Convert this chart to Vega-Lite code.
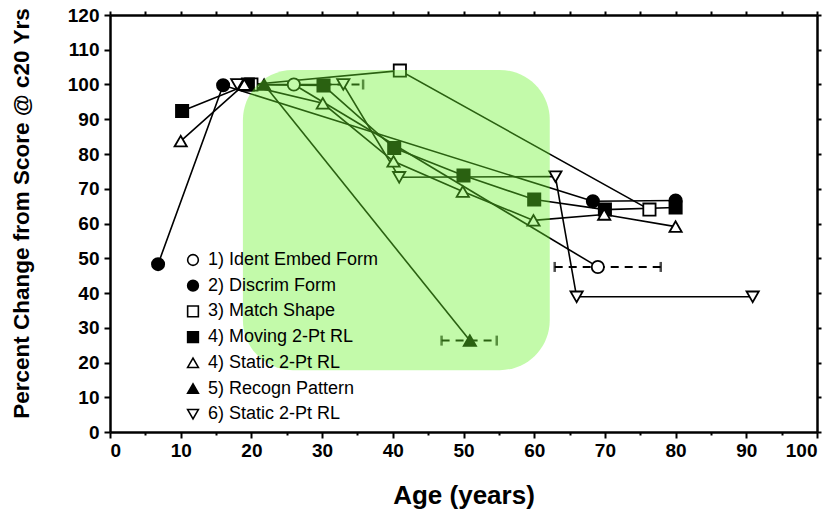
{
  "$schema": "https://vega.github.io/schema/vega-lite/v6.json",
  "width": 707,
  "height": 417,
  "autosize": {"type": "none"},
  "padding": {"left": 110, "top": 15, "right": 19, "bottom": 79},
  "background": "white",
  "config": {
    "view": {"stroke": null},
    "font": "Liberation Sans",
    "axis": {
      "domainColor": "black",
      "domainWidth": 2.5,
      "tickColor": "black",
      "tickWidth": 2,
      "grid": false,
      "labelColor": "black",
      "titleColor": "black",
      "labelFont": "Liberation Sans",
      "titleFont": "Liberation Sans",
      "labelFontWeight": "bold",
      "titleFontWeight": "bold"
    },
    "legend": {
      "title": null,
      "orient": "none",
      "legendX": 74,
      "legendY": 236,
      "symbolSize": 115,
      "symbolStrokeWidth": 1.6,
      "labelFont": "Liberation Sans",
      "labelFontSize": 18,
      "labelColor": "black",
      "labelLimit": 300,
      "labelOffset": 6,
      "rowPadding": 7.7,
      "padding": 0
    }
  },
  "datasets": {
    "scores": [
      {"task": "1) Ident Embed Form", "age": 26, "pct": 100},
      {"task": "1) Ident Embed Form", "age": 69, "pct": 47.5},
      {"task": "2) Discrim Form", "age": 6.8, "pct": 48.3},
      {"task": "2) Discrim Form", "age": 16, "pct": 99.8},
      {"task": "2) Discrim Form", "age": 68.3, "pct": 66.4},
      {"task": "2) Discrim Form", "age": 80, "pct": 66.6},
      {"task": "3) Match Shape", "age": 20, "pct": 100},
      {"task": "3) Match Shape", "age": 41, "pct": 104},
      {"task": "3) Match Shape", "age": 76.3, "pct": 64},
      {"task": "4) Moving 2-Pt RL", "age": 10.2, "pct": 92.4},
      {"task": "4) Moving 2-Pt RL", "age": 19.5, "pct": 100},
      {"task": "4) Moving 2-Pt RL", "age": 30.2, "pct": 99.7},
      {"task": "4) Moving 2-Pt RL", "age": 40.2, "pct": 81.7},
      {"task": "4) Moving 2-Pt RL", "age": 50, "pct": 73.8},
      {"task": "4) Moving 2-Pt RL", "age": 60, "pct": 66.9},
      {"task": "4) Moving 2-Pt RL", "age": 70, "pct": 64},
      {"task": "4) Moving 2-Pt RL", "age": 80, "pct": 64.6},
      {"task": "4) Static 2-Pt RL", "age": 10, "pct": 83.7},
      {"task": "4) Static 2-Pt RL", "age": 19, "pct": 100},
      {"task": "4) Static 2-Pt RL", "age": 30.1, "pct": 94.6},
      {"task": "4) Static 2-Pt RL", "age": 40.1, "pct": 77.9},
      {"task": "4) Static 2-Pt RL", "age": 49.9, "pct": 69.2},
      {"task": "4) Static 2-Pt RL", "age": 59.9, "pct": 60.9},
      {"task": "4) Static 2-Pt RL", "age": 69.9, "pct": 62.6},
      {"task": "4) Static 2-Pt RL", "age": 80, "pct": 59.1},
      {"task": "5) Recogn Pattern", "age": 21.8, "pct": 100},
      {"task": "5) Recogn Pattern", "age": 50.9, "pct": 26.3},
      {"task": "6) Static 2-Pt RL", "age": 18, "pct": 100},
      {"task": "6) Static 2-Pt RL", "age": 33, "pct": 100},
      {"task": "6) Static 2-Pt RL", "age": 40.9, "pct": 73.3},
      {"task": "6) Static 2-Pt RL", "age": 63, "pct": 73.5},
      {"task": "6) Static 2-Pt RL", "age": 66, "pct": 38.9},
      {"task": "6) Static 2-Pt RL", "age": 90.9, "pct": 38.9}
    ],
    "ageRange": [
      {"task": "1) Ident Embed Form", "pct": 47.5, "lo": 62.9, "hi": 77.9},
      {"task": "5) Recogn Pattern", "pct": 26.3, "lo": 46.9, "hi": 54.7},
      {"task": "6) Static 2-Pt RL", "pct": 100, "lo": 30.2, "hi": 35.8}
    ],
    "band": [{"from": 18.8, "to": 62.2, "low": 17.8, "high": 104.2}]
  },
  "resolve": {"axis": {"x": "independent", "y": "independent"}},
  "layer": [
    {
      "data": {"name": "scores"},
      "mark": {"type": "line", "color": "black", "strokeWidth": 1.6},
      "encoding": {
        "x": {
          "field": "age", "type": "quantitative",
          "scale": {"domain": [0, 100], "nice": false, "zero": false},
          "axis": {
            "orient": "bottom",
            "values": [0, 5, 10, 15, 20, 25, 30, 35, 40, 45, 50, 55, 60, 65, 70, 75, 80, 85, 90, 95, 100],
            "labelExpr": "datum.value % 10 === 0 ? datum.label : ''",
            "tickSize": {"condition": {"test": "datum.value % 10 === 0", "value": 6}, "value": 3},
            "labelFontSize": 19,
            "labelPadding": 3,
            "title": "Age (years)",
            "titleFontSize": 26,
            "titlePadding": 22
          }
        },
        "y": {
          "field": "pct", "type": "quantitative",
          "scale": {"domain": [0, 120], "nice": false, "zero": false},
          "axis": {
            "orient": "left",
            "values": [0, 10, 20, 30, 40, 50, 60, 70, 80, 90, 100, 110, 120],
            "tickSize": 6,
            "labelFontSize": 19,
            "labelPadding": 5,
            "title": "Percent Change from Score @ c20 Yrs",
            "titleFontSize": 22.5,
            "titlePadding": 34,
            "titleY": 198
          }
        },
        "detail": {"field": "task"},
        "order": {"field": "age", "type": "quantitative"}
      }
    },
    {
      "data": {"name": "ageRange"},
      "mark": {
        "type": "errorbar",
        "color": "black",
        "thickness": 2,
        "ticks": {"size": 10, "thickness": 2.5},
        "rule": {"strokeDash": [8, 6]}
      },
      "encoding": {
        "x": {"field": "lo", "type": "quantitative", "axis": null},
        "x2": {"field": "hi"},
        "y": {"field": "pct", "type": "quantitative", "axis": null}
      }
    },
    {
      "data": {"name": "scores"},
      "mark": {"type": "point", "strokeWidth": 1.8, "opacity": 1, "size": 150},
      "encoding": {
        "x": {"field": "age", "type": "quantitative", "axis": null},
        "y": {"field": "pct", "type": "quantitative", "axis": null},
        "shape": {
          "field": "task", "type": "nominal",
          "scale": {
            "domain": ["1) Ident Embed Form", "2) Discrim Form", "3) Match Shape", "4) Moving 2-Pt RL", "4) Static 2-Pt RL", "5) Recogn Pattern", "6) Static 2-Pt RL"],
            "range": ["circle", "circle", "square", "square", "triangle-up", "triangle-up", "triangle-down"]
          }
        },
        "fill": {
          "field": "task", "type": "nominal",
          "scale": {
            "domain": ["1) Ident Embed Form", "2) Discrim Form", "3) Match Shape", "4) Moving 2-Pt RL", "4) Static 2-Pt RL", "5) Recogn Pattern", "6) Static 2-Pt RL"],
            "range": ["white", "black", "white", "black", "white", "black", "white"]
          }
        },
        "stroke": {
          "field": "task", "type": "nominal",
          "scale": {
            "domain": ["1) Ident Embed Form", "2) Discrim Form", "3) Match Shape", "4) Moving 2-Pt RL", "4) Static 2-Pt RL", "5) Recogn Pattern", "6) Static 2-Pt RL"],
            "range": ["black", "black", "black", "black", "black", "black", "black"]
          }
        }
      }
    },
    {
      "data": {"name": "band"},
      "mark": {"type": "rect", "fill": "#6af22a", "opacity": 0.4, "cornerRadius": 50},
      "encoding": {
        "x": {
          "field": "from", "type": "quantitative",
          "axis": {
            "orient": "top",
            "values": [0, 5, 10, 15, 20, 25, 30, 35, 40, 45, 50, 55, 60, 65, 70, 75, 80, 85, 90, 95, 100],
            "tickSize": 4,
            "labels": false,
            "title": null
          }
        },
        "x2": {"field": "to"},
        "y": {
          "field": "low", "type": "quantitative",
          "axis": {
            "orient": "right",
            "values": [0, 10, 20, 30, 40, 50, 60, 70, 80, 90, 100, 110, 120],
            "tickSize": 4,
            "labels": false,
            "title": null
          }
        },
        "y2": {"field": "high"}
      }
    }
  ]
}
